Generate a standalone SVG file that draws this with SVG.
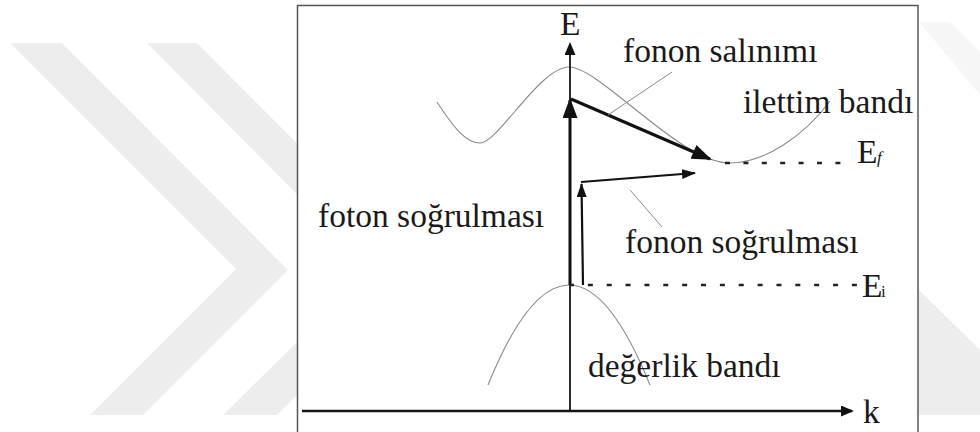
<svg xmlns="http://www.w3.org/2000/svg" width="980" height="432" viewBox="0 0 980 432">
  <style>
    .wm { fill: #ededed; }
    text { font-family: 'Liberation Serif', 'Times New Roman', 'DejaVu Serif', serif; fill: #1a1a1a; }
    .lbl { font-size: 33.5px; }
    .sub { font-size: 17px; }
    .band { fill: none; stroke: #8a8a8a; stroke-width: 1.1; }
    .leader { fill: none; stroke: #8a8a8a; stroke-width: 1; }
    .axis { stroke: #141414; fill: none; }
    .arr { stroke: #111; fill: none; }
    .dash { stroke: #222; stroke-width: 2.6; fill: none; }
  </style>
  <defs>
    <marker id="headBig" markerUnits="userSpaceOnUse" markerWidth="22" markerHeight="16" refX="18" refY="7.5" orient="auto">
      <path d="M0,0 L20,7.5 L0,15 z" fill="#111"/>
    </marker>
    <marker id="headMid" markerUnits="userSpaceOnUse" markerWidth="16" markerHeight="12" refX="13" refY="5" orient="auto">
      <path d="M0,0 L14,5 L0,10 z" fill="#111"/>
    </marker>
    <marker id="headAxis" markerUnits="userSpaceOnUse" markerWidth="16" markerHeight="12" refX="11" refY="5.5" orient="auto">
      <path d="M0,0 L13,5.5 L0,11 z" fill="#111"/>
    </marker>
  </defs>

  <rect x="0" y="0" width="980" height="432" fill="#ffffff"/>

  <g id="watermark">
    <polygon class="wm" points="10,43 62,43 288,270 143,415 90,415 236,269"/>
    <polygon class="wm" points="147,43 197,43 422,269 277,415 223,415 371,269"/>
    <polygon class="wm" points="919,290 980,350 980,415 919,415"/>
    <polygon class="wm" points="919,22 950,22 980,52 980,95" opacity="0.5"/>
  </g>

  <g id="frame">
    <rect x="297.5" y="5.5" width="620.5" height="440" fill="#ffffff" stroke="#555" stroke-width="1.5"/>
  </g>

  <g id="bands">
    <path id="conduction-band" class="band" d="M437,102 C452,125 465,143 480,143 C498,143 540,67 569,67 C600,67 680,163 730,163 C765,163 805,135 830,101"/>
    <path id="valence-band" class="band" d="M488,385 Q569,185 650,385"/>
  </g>

  <g id="connectors">
    <line class="axis" x1="302" y1="411" x2="852" y2="411" stroke-width="2.5" marker-end="url(#headAxis)"/>
    <line class="axis" x1="570" y1="411" x2="570" y2="44" stroke-width="1.8" marker-end="url(#headAxis)"/>
    <line class="arr" x1="570" y1="285" x2="570" y2="100" stroke-width="3" marker-end="url(#headBig)"/>
    <line class="arr" x1="571" y1="99" x2="710" y2="159" stroke-width="3" marker-end="url(#headBig)"/>
    <line class="arr" x1="583" y1="285" x2="581.5" y2="184" stroke-width="2.2" marker-end="url(#headMid)"/>
    <line class="arr" x1="581" y1="182" x2="695" y2="173" stroke-width="2.2" marker-end="url(#headMid)"/>
    <line class="leader" x1="672" y1="72" x2="608" y2="115"/>
    <line class="leader" x1="630" y1="190" x2="662" y2="227"/>
    <line class="dash" x1="725" y1="163" x2="843" y2="163" stroke-dasharray="5 13.4"/>
    <line class="dash" x1="569" y1="285" x2="857" y2="285" stroke-dasharray="5 13.86"/>
  </g>

  <g id="label-E"><text class="lbl" x="560" y="35">E</text></g>
  <g id="label-k"><text class="lbl" x="863" y="423">k</text></g>
  <g id="label-fonon-salinimi"><text class="lbl" x="623" y="62">fonon salınımı</text></g>
  <g id="label-iletim-bandi"><text class="lbl" x="743" y="113">ilettim bandı</text></g>
  <g id="label-Ef"><text class="lbl" x="857" y="163">E</text><text class="sub" x="877" y="163" font-style="italic">f</text></g>
  <g id="label-foton-sogrulmasi"><text class="lbl" x="318" y="227">foton soğrulması</text></g>
  <g id="label-fonon-sogrulmasi"><text class="lbl" x="625" y="253">fonon soğrulması</text></g>
  <g id="label-Ei"><text class="lbl" x="862" y="297">E</text><text class="sub" x="881" y="297">i</text></g>
  <g id="label-degerlik-bandi"><text class="lbl" x="588" y="377">değerlik bandı</text></g>
</svg>
